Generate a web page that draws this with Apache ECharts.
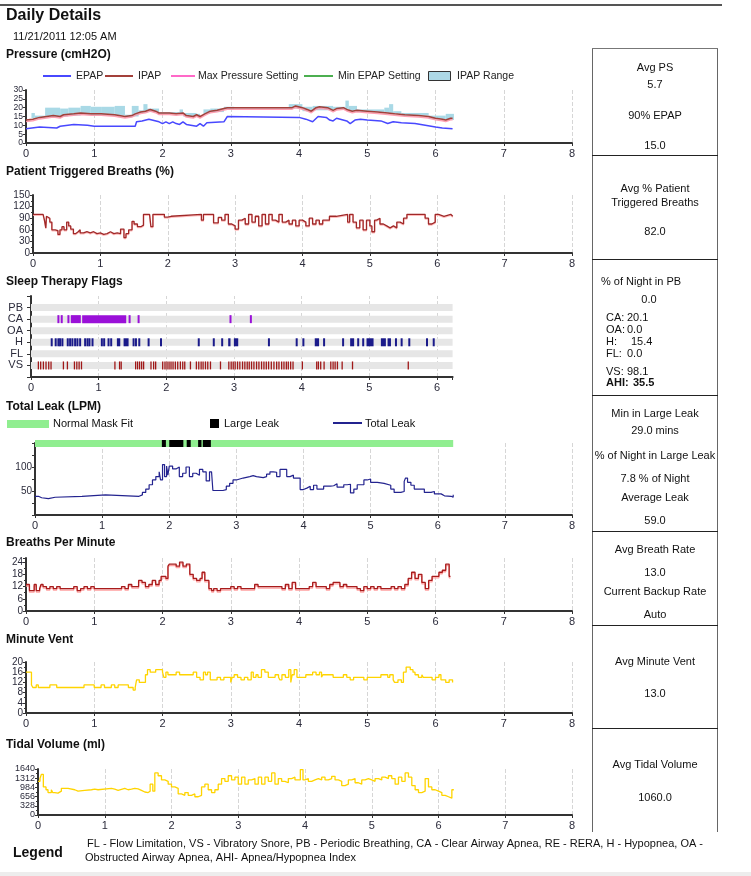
<!DOCTYPE html>
<html><head><meta charset="utf-8">
<script src="https://cdn.jsdelivr.net/npm/echarts@6/dist/echarts.min.js"></script>
<style>html,body{margin:0;padding:0;background:#fff;overflow:hidden}#c{width:751px;height:876px}</style>
</head><body><div id="c"></div>
<script>
// ---------------- DATA ----------------
const hourTicks = [0,1,2,3,4,5,6,7,8];
const flagHourTicks = [1,2,3,4,5,6];
const flagRows = ['VS','FL','H','OA','CA','PB']; // bottom -> top (values 1..6)

const ipap = [[0,13],[0.1,13.5],[0.2,14.5],[0.3,15],[0.4,15.5],[0.5,15],[0.55,16],[0.7,16.5],[0.8,17],[0.95,16.5],[1.1,16.5],[1.3,16],[1.45,15],[1.55,15.5],[1.6,16.5],[1.68,17.5],[1.75,18],[1.82,19],[1.9,18],[1.95,17],[2.1,17],[2.2,16.5],[2.3,17],[2.35,15.5],[2.45,15],[2.5,16],[2.55,15],[2.62,16.5],[2.7,18],[2.8,18.5],[2.9,19.5],[2.95,20],[3.9,20],[3.95,21],[4.05,20],[4.12,19],[4.18,18],[4.25,20],[4.3,20.5],[4.42,20],[4.5,18.5],[4.55,19.5],[4.65,20],[4.7,19],[4.78,18],[4.85,18.5],[5.0,18],[5.15,17.5],[5.3,17],[5.4,16.5],[5.55,16],[5.75,15.5],[5.9,15],[6.0,14],[6.1,13.5],[6.15,13],[6.22,14],[6.25,14]];
const epap = [[0,8],[0.2,9],[0.45,8.5],[0.5,9.5],[0.7,10.5],[0.9,10],[1.0,9.5],[1.6,9.5],[1.62,12],[1.7,12.5],[1.8,13.5],[1.95,12],[2.0,11],[2.05,12],[2.1,11],[2.15,12],[2.2,11],[2.25,10.5],[2.3,12],[2.35,10.5],[2.5,9.5],[2.55,11],[2.6,9.5],[2.65,11.5],[2.9,12],[2.95,15],[4.0,14.5],[4.1,13.5],[4.2,12],[4.28,15],[4.4,14.5],[4.45,13],[4.5,12.5],[4.55,14],[4.7,12.5],[4.75,11],[4.82,13],[4.9,13.5],[5.0,13],[5.2,12.5],[5.3,11],[5.38,12],[5.5,11.5],[5.7,11],[5.85,10],[6.0,9],[6.1,8.5],[6.25,8]];
// [start hour, end hour, low, high]
const ipapRange = [[0.08,0.13,14,17],[0.13,0.28,14,15.5],[0.28,0.5,14.5,20],[0.5,0.62,15,19.5],[0.62,0.8,15.5,20],[0.8,0.95,16,21],[0.95,1.1,15.5,20.5],[1.1,1.3,15.5,20.5],[1.3,1.45,15.5,21],[1.45,1.55,14.5,16],[1.55,1.65,15,21],[1.65,1.72,17,18.5],[1.72,1.78,17,22],[1.78,1.95,17.5,19.5],[1.95,2.25,16.5,17.5],[2.25,2.3,16,19],[2.3,2.5,15,17],[2.5,2.55,15,16.5],[2.6,2.7,16.5,19],[2.7,2.9,17.5,19.5],[2.9,3.05,19,20.5],[3.05,3.85,19.5,20.3],[3.85,4.05,19.5,22],[4.05,4.2,18,20.5],[4.2,4.5,18.5,21],[4.5,4.68,19,20.5],[4.68,4.73,19,24],[4.73,4.85,18,21],[4.85,5.25,17.5,19],[5.25,5.32,17,20],[5.32,5.38,17,22],[5.38,5.5,16.5,18],[5.5,5.9,15.5,17],[5.9,6.15,13.5,15.5],[6.15,6.27,13,16.5]];

const patientTriggered = [[0,100],[0.15,95],[0.17,85],[0.19,65],[0.2,95],[0.22,90],[0.25,80],[0.28,60],[0.33,58],[0.37,48],[0.4,60],[0.43,68],[0.46,60],[0.5,80],[0.53,70],[0.56,62],[0.6,50],[0.63,55],[0.67,60],[0.7,52],[0.75,55],[0.8,52],[0.85,55],[0.9,50],[0.95,52],[1.0,48],[1.05,50],[1.1,55],[1.15,50],[1.2,52],[1.25,50],[1.3,62],[1.35,40],[1.38,50],[1.42,60],[1.47,82],[1.5,75],[1.55,68],[1.6,72],[1.64,100],[1.73,100],[1.75,68],[1.78,100],[1.95,93],[2.0,95],[2.05,100],[2.5,85],[2.53,100],[2.68,78],[2.75,92],[2.8,85],[2.85,100],[2.9,75],[2.95,70],[3.0,62],[3.05,85],[3.1,90],[3.15,75],[3.2,100],[3.25,80],[3.3,95],[3.35,70],[3.4,100],[3.45,75],[3.5,100],[3.55,85],[3.6,80],[3.65,100],[3.7,80],[3.75,85],[3.8,75],[3.85,85],[3.9,70],[3.95,85],[4.0,80],[4.05,70],[4.1,90],[4.15,75],[4.2,85],[4.25,75],[4.3,85],[4.4,95],[4.5,100],[4.67,80],[4.7,100],[4.75,80],[4.8,65],[4.85,85],[4.9,60],[4.95,85],[5.0,70],[5.03,55],[5.07,85],[5.1,90],[5.15,75],[5.2,70],[5.25,65],[5.3,70],[5.35,65],[5.4,80],[5.45,75],[5.5,90],[5.55,100],[5.82,90],[5.87,75],[5.92,80],[5.97,100],[6.02,95],[6.1,100],[6.2,95],[6.23,95]];

// flag events: [start hour, end hour]
const flagsCA = [[0.405,0.405],[0.454,0.454],[0.553,0.553],[0.588,0.736],[0.756,1.407],[1.457,1.457],[1.59,1.59],[2.948,2.948],[3.249,3.249]];
const flagsH = [[0.306,0.306],[0.365,0.365],[0.405,0.405],[0.43,0.43],[0.464,0.464],[0.543,0.543],[0.578,0.578],[0.612,0.612],[0.652,0.652],[0.686,0.686],[0.726,0.726],[0.8,0.8],[0.835,0.835],[0.864,0.864],[0.909,0.909],[1.047,1.047],[1.081,1.081],[1.146,1.146],[1.185,1.185],[1.269,1.319],[1.368,1.442],[1.516,1.516],[1.551,1.551],[1.6,1.6],[1.738,1.738],[1.921,1.921],[2.479,2.479],[2.701,2.701],[2.825,2.825],[2.914,2.948],[2.998,3.062],[3.516,3.516],[3.926,3.926],[4.025,4.025],[4.193,4.257],[4.331,4.331],[4.612,4.612],[4.716,4.775],[4.835,4.835],[4.909,4.909],[4.958,5.062],[5.17,5.244],[5.269,5.319],[5.393,5.393],[5.477,5.477],[5.59,5.59],[5.852,5.852],[5.951,5.951]];
const flagsVS = [0.109,0.143,0.183,0.222,0.262,0.296,0.479,0.538,0.642,0.677,0.711,0.746,1.24,1.309,1.333,1.546,1.575,1.605,1.635,1.664,1.773,1.812,1.842,1.946,1.98,2.01,2.04,2.069,2.099,2.133,2.168,2.207,2.242,2.272,2.356,2.444,2.479,2.514,2.543,2.578,2.612,2.652,2.8,2.923,2.958,2.988,3.017,3.052,3.086,3.126,3.16,3.195,3.225,3.259,3.294,3.333,3.368,3.407,3.442,3.477,3.511,3.551,3.59,3.63,3.664,3.704,3.738,3.773,3.802,3.837,3.872,4.01,4.222,4.247,4.281,4.331,4.43,4.464,4.494,4.528,4.598,4.751,5.575];
const flagsEnd = 6.23;

// mask fit: [start, end, kind] kind 0 = normal, 1 = large leak
const maskFit = [[0,6.23,0],[1.89,1.95,1],[2.0,2.21,1],[2.26,2.32,1],[2.43,2.48,1],[2.5,2.62,1]];
const totalLeak = [[0,39],[0.05,36],[0.1,34],[0.2,37],[0.3,39],[0.7,42],[1.05,39],[1.55,42],[1.6,47],[1.65,54],[1.7,63],[1.75,73],[1.8,80],[1.85,90],[1.87,73],[1.9,105],[1.93,80],[1.96,102],[1.98,83],[2.0,102],[2.05,96],[2.1,100],[2.15,80],[2.2,87],[2.25,100],[2.3,80],[2.35,87],[2.4,83],[2.45,95],[2.5,90],[2.55,71],[2.6,90],[2.63,87],[2.65,51],[2.8,53],[2.85,60],[2.9,66],[2.95,73],[3.0,77],[3.1,80],[3.2,82],[3.25,80],[3.3,78],[3.4,80],[3.45,85],[3.5,90],[3.55,89],[3.6,80],[3.65,95],[3.75,80],[3.8,83],[3.85,77],[3.95,53],[4.0,56],[4.05,60],[4.1,53],[4.15,62],[4.2,54],[4.3,60],[4.4,61],[4.45,65],[4.5,58],[4.6,63],[4.65,64],[4.7,46],[4.75,54],[4.8,63],[4.9,73],[4.95,75],[5.0,68],[5.1,66],[5.2,62],[5.3,54],[5.35,47],[5.45,49],[5.5,70],[5.52,77],[5.55,68],[5.6,62],[5.65,54],[5.8,47],[5.9,49],[5.95,44],[6.05,40],[6.1,39],[6.2,37],[6.23,42]];

const breathsPerMin = [[0,13],[0.05,10],[0.12,13],[0.15,10],[0.2,11],[0.22,13],[0.25,12],[0.3,11],[0.35,12],[0.4,11],[0.45,12],[0.5,11],[0.7,12],[0.75,10],[0.8,11],[0.85,12],[0.9,11],[0.95,12],[1.0,11],[1.4,12],[1.45,11],[1.5,13],[1.55,12],[1.65,15],[1.7,14],[1.75,12],[1.8,13],[1.85,15],[1.9,13],[1.95,15],[1.98,17],[2.05,16],[2.08,22],[2.1,23],[2.2,22],[2.25,24],[2.3,22],[2.35,23],[2.4,18],[2.45,16],[2.5,15],[2.55,16],[2.58,19],[2.62,15],[2.68,11],[2.72,10],[2.75,11],[2.8,10],[2.85,11],[3.0,12],[3.05,11],[3.1,12],[3.15,11],[3.35,13],[3.4,12],[3.75,11],[3.8,13],[3.85,11],[3.9,14],[3.95,11],[4.15,12],[4.2,14],[4.25,12],[4.4,11],[4.45,13],[4.5,14],[4.6,12],[4.65,13],[4.7,12],[4.85,11],[4.9,10],[4.95,12],[5.0,11],[5.05,12],[5.1,11],[5.15,12],[5.2,11],[5.35,12],[5.4,11],[5.45,12],[5.5,11],[5.55,13],[5.6,16],[5.65,19],[5.7,16],[5.75,18],[5.8,14],[5.85,11],[5.9,15],[5.95,17],[6.05,19],[6.1,20],[6.15,23],[6.2,17],[6.22,17]];

const minuteVent = [[0,16],[0.08,11],[0.1,10],[0.15,11],[0.18,10],[0.35,11],[0.45,10],[0.85,11],[1.0,10],[1.1,11],[1.15,10],[1.25,11],[1.3,10],[1.35,11],[1.5,10],[1.57,9],[1.6,10],[1.62,13],[1.66,12],[1.75,15],[1.78,17],[1.82,16],[1.9,17],[2.0,16],[2.02,14],[2.05,16],[2.08,15],[2.2,16],[2.25,15],[2.45,16],[2.5,14],[2.55,13],[2.6,16],[2.63,15],[2.66,16],[2.7,13],[2.8,14],[2.85,13],[2.9,14],[3.0,12],[3.02,14],[3.05,15],[3.1,14],[3.15,13],[3.2,14],[3.25,13],[3.3,16],[3.33,14],[3.37,15],[3.4,14],[3.45,17],[3.5,16],[3.55,14],[3.65,15],[3.7,14],[3.72,13],[3.75,15],[3.8,14],[3.85,17],[3.88,12],[3.9,15],[3.93,17],[3.97,14],[4.1,15],[4.2,16],[4.25,15],[4.3,16],[4.33,14],[4.35,15],[4.5,14],[4.65,15],[4.7,14],[4.75,13],[4.8,14],[4.95,13],[5.0,14],[5.2,15],[5.3,14],[5.33,15],[5.38,13],[5.4,12],[5.45,13],[5.5,12],[5.53,16],[5.57,18],[5.63,17],[5.67,16],[5.7,15],[5.75,14],[5.8,15],[5.82,14],[5.95,13],[6.0,14],[6.05,15],[6.08,13],[6.15,12],[6.2,13],[6.25,12]];

const tidalVolume = [[0,1200],[0.03,1300],[0.05,1450],[0.08,1000],[0.12,900],[0.15,800],[0.2,900],[0.22,800],[0.25,780],[0.3,850],[0.35,950],[0.45,900],[0.55,850],[0.6,880],[0.7,900],[0.8,920],[0.85,900],[0.9,950],[1.1,920],[1.15,880],[1.2,950],[1.3,900],[1.35,920],[1.4,950],[1.45,930],[1.5,880],[1.55,820],[1.6,800],[1.65,850],[1.68,1100],[1.72,850],[1.75,1500],[1.8,1400],[1.85,1250],[1.9,1200],[1.95,1100],[2.0,1000],[2.05,950],[2.1,750],[2.15,700],[2.2,800],[2.25,700],[2.3,750],[2.35,650],[2.4,700],[2.45,1000],[2.5,1100],[2.55,900],[2.6,800],[2.65,900],[2.7,1100],[2.75,1300],[2.8,1200],[2.85,1400],[2.9,1250],[2.95,1350],[3.0,1100],[3.05,1350],[3.1,1100],[3.15,1250],[3.2,1300],[3.25,1100],[3.3,1350],[3.35,1100],[3.4,1350],[3.45,1200],[3.5,1500],[3.55,1100],[3.6,1300],[3.65,1200],[3.7,1150],[3.75,1300],[3.8,1350],[3.85,1250],[3.93,1620],[3.97,1250],[4.0,1300],[4.05,1200],[4.1,1250],[4.15,1300],[4.2,1250],[4.25,1350],[4.3,1250],[4.35,1300],[4.4,1380],[4.45,1250],[4.5,1200],[4.55,1050],[4.6,1100],[4.65,1250],[4.7,1300],[4.75,1150],[4.8,1100],[4.85,1250],[4.9,1300],[4.95,1250],[5.0,1200],[5.05,1300],[5.1,1250],[5.15,1350],[5.2,1300],[5.25,1400],[5.3,1300],[5.35,1100],[5.4,1350],[5.45,1200],[5.5,1500],[5.55,1350],[5.6,1050],[5.65,900],[5.7,800],[5.75,850],[5.8,1300],[5.85,1000],[5.9,900],[5.95,850],[6.0,800],[6.05,700],[6.1,650],[6.15,600],[6.2,900],[6.23,900]];

const pressureTicks = [0,5,10,15,20,25,30];
const patientTicks = [0,30,60,90,120,150];
const leakTicks = [50,100];
const breathTicks = [0,6,12,18,24];
const mvTicks = [0,4,8,12,16,20];
const tvTicks = [0,328,656,984,1312,1640];

// ---------------- STYLE / LAYOUT ----------------
const FONT = '"Liberation Sans", Arial, sans-serif';
const LBL = '#2b2b3b';

function xAx(gi, max, split) {
  return {
    type:'value', gridIndex:gi, min:0, max:max, interval:1,
    axisLine:{show:true, onZero:false, lineStyle:{color:'#333', width:2}},
    axisTick:{show:true, length:3, lineStyle:{color:'#333'}},
    axisLabel:{show:true, fontSize:11, color:LBL, fontFamily:FONT, margin:5, showMinLabel:true, showMaxLabel:true, hideOverlap:false,
      formatter:v => hourTicks.indexOf(v) >= 0 ? String(v) : ''},
    splitLine:{show: split !== false, lineStyle:{color:'#d6d6d6', type:'dashed', width:1}}
  };
}
function yAx(gi, min, max, interval, ticks, minorSplit, fs) {
  return {
    type:'value', gridIndex:gi, min:min, max:max, interval:interval,
    axisLine:{show:true, onZero:false, lineStyle:{color:'#333', width:2}},
    axisTick:{show:true, length:3, lineStyle:{color:'#333'}},
    minorTick:{show: !!minorSplit, splitNumber: minorSplit || 2, length:2, lineStyle:{color:'#333'}},
    axisLabel:{fontSize:fs || 10, color:LBL, fontFamily:FONT, margin:3, lineHeight:7, padding:0,
      showMinLabel:true, showMaxLabel:true, hideOverlap:false,
      formatter:v => ticks.indexOf(v) >= 0 ? String(v) : ''},
    splitLine:{show:false}
  };
}
function yFlags(gi) {
  return {
    type:'value', gridIndex:gi, min:0, max:7, interval:1,
    axisLine:{show:true, onZero:false, lineStyle:{color:'#333', width:2}},
    axisTick:{show:true, length:4, lineStyle:{color:'#333'}},
    axisLabel:{fontSize:11, color:LBL, fontFamily:FONT, margin:8, lineHeight:9, showMinLabel:true, showMaxLabel:true, hideOverlap:false,
      formatter:v => (v>=1 && v<=6) ? flagRows[v-1] : ''},
    splitLine:{show:false}
  };
}

const grids = [
  {left:26, top:90, width:546, height:53},   // 0 pressure
  {left:33, top:195, width:539, height:58},  // 1 patient
  {left:31, top:296, width:421.6, height:81},// 2 flags
  {left:35, top:440, width:537, height:7},   // 3 mask bar
  {left:35, top:443, width:537, height:72},  // 4 leak
  {left:26, top:558, width:546, height:53},  // 5 breaths
  {left:26, top:662, width:546, height:51},  // 6 minute vent
  {left:38, top:769, width:534, height:46}   // 7 tidal
].map(g => Object.assign({containLabel:false, outerBoundsMode:'none'}, g));

function rectRender(color) {
  return function(params, api) {
    const p0 = api.coord([api.value(0), api.value(3)]);
    const p1 = api.coord([api.value(1), api.value(2)]);
    return {type:'rect', shape:{x:p0[0], y:p0[1], width:Math.max(p1[0]-p0[0],1), height:p1[1]-p0[1]},
      style:{fill: color}};
  };
}
function eventRender(color, h, minW) {
  return function(params, api) {
    const a = api.coord([api.value(0), api.value(2)]);
    const b = api.coord([api.value(1), api.value(2)]);
    let w = b[0]-a[0], x = a[0];
    if (w < minW) { x = a[0]-minW/2; w = minW; }
    return {type:'rect', shape:{x:x, y:a[1]-h/2, width:w, height:h}, style:{fill:color}};
  };
}

const bandData = [1,2,3,4,5,6].map(r => [0, flagsEnd, r]);
const caData = flagsCA.map(e => [e[0], e[1], 5]);
const hData = flagsH.map(e => [e[0], e[1], 3]);
const vsData = flagsVS.map(t => [t, t, 1]);

const series = [
  {type:'custom', xAxisIndex:0, yAxisIndex:0, renderItem:rectRender('#a9d9e6'), data:ipapRange, encode:{x:[0,1], y:[2,3]}, z:1},
  {type:'line', xAxisIndex:0, yAxisIndex:0, data:ipap, showSymbol:false, lineStyle:{color:'#a3403a', width:1.5, shadowColor:'rgba(255,150,170,0.9)', shadowOffsetY:1.5}, z:3},
  {type:'line', xAxisIndex:0, yAxisIndex:0, data:epap, showSymbol:false, lineStyle:{color:'#4848ff', width:1.5}, z:3},

  {type:'line', xAxisIndex:1, yAxisIndex:1, data:patientTriggered, step:'end', showSymbol:false, lineStyle:{color:'#a02828', width:1.3, shadowColor:'rgba(255,170,170,0.8)', shadowOffsetY:1}},

  {type:'line', xAxisIndex:2, yAxisIndex:2, data:[], silent:true,
    markLine:{silent:true, symbol:'none', label:{show:false}, z:0,
      lineStyle:{color:'#d6d6d6', type:'dashed', width:1},
      data: flagHourTicks.map(h => ({xAxis:h}))}},
  {type:'custom', xAxisIndex:2, yAxisIndex:2, renderItem:eventRender('#e6e6e6', 7, 1), data:bandData, encode:{x:[0,1], y:2}, z:1},
  {type:'custom', xAxisIndex:2, yAxisIndex:2, renderItem:eventRender('#9a10d8', 8, 2), data:caData, encode:{x:[0,1], y:2}, z:2},
  {type:'custom', xAxisIndex:2, yAxisIndex:2, renderItem:eventRender('#1a1a8a', 8, 2), data:hData, encode:{x:[0,1], y:2}, z:2},
  {type:'custom', xAxisIndex:2, yAxisIndex:2, renderItem:eventRender('#a01818', 8, 1.3), data:vsData, encode:{x:[0,1], y:2}, z:2},

  {type:'custom', xAxisIndex:3, yAxisIndex:3, renderItem:function(params, api){
      const a = api.coord([api.value(0), 1]);
      const b = api.coord([api.value(1), 0]);
      return {type:'rect', shape:{x:a[0], y:a[1], width:b[0]-a[0], height:b[1]-a[1]},
        style:{fill: api.value(2) ? '#000' : '#90ee90'}};
    }, data:maskFit, encode:{x:[0,1]}, z:5},
  {type:'line', xAxisIndex:4, yAxisIndex:4, data:totalLeak, step:'end', showSymbol:false, lineStyle:{color:'#23238f', width:1.2}},

  {type:'line', xAxisIndex:5, yAxisIndex:5, data:breathsPerMin, step:'end', showSymbol:false, lineStyle:{color:'#a81c1c', width:1.3, shadowColor:'rgba(255,150,150,0.9)', shadowOffsetY:1.5}},
  {type:'line', xAxisIndex:6, yAxisIndex:6, data:minuteVent, step:'end', showSymbol:false, lineStyle:{color:'#ffd400', width:1.3}},
  {type:'line', xAxisIndex:7, yAxisIndex:7, data:tidalVolume, step:'end', showSymbol:false, lineStyle:{color:'#ffd400', width:1.3}}
];

const xAxes = [xAx(0,8), xAx(1,8), xAx(2,flagsEnd,false), Object.assign(xAx(3,8), {show:false}), xAx(4,8), xAx(5,8), xAx(6,8), xAx(7,8)];
const yAxes = [
  yAx(0,0,30,5,pressureTicks,0,8.6),
  yAx(1,0,150,30,patientTicks,2),
  yFlags(2),
  {type:'value', gridIndex:3, min:0, max:1, show:false},
  yAx(4,0,150,25,leakTicks,0),
  yAx(5,0,26,6,breathTicks,2),
  yAx(6,0,20,4,mvTicks,2),
  yAx(7,0,1640,328,tvTicks,2,9)
];

// ---------------- TEXT / DECOR ----------------
const g = [];
function T(x, y, text, o) {
  o = o || {};
  g.push({type:'text', x:x, y:y, silent:true, z:10, style:{text:text, fill:o.fill||'#111',
    font:(o.bold?'bold ':'') + (o.size||11) + 'px ' + FONT,
    textAlign:o.align||'left', textVerticalAlign:'middle', align:o.align||'left', verticalAlign:'middle'}});
}
function L(x1,y1,x2,y2,c,w) { g.push({type:'line', silent:true, z:10, shape:{x1:x1,y1:y1,x2:x2,y2:y2}, style:{stroke:c, lineWidth:w||1}}); }
function R(x,y,w,h,fill,stroke) { g.push({type:'rect', silent:true, z:10, shape:{x:x,y:y,width:w,height:h}, style:{fill:fill, stroke:stroke||null, lineWidth:1}}); }

L(0,5,722,5,'#555',2);
T(6,16,'Daily Details',{bold:true,size:16});
T(13,37,'11/21/2011 12:05 AM',{size:11});
T(6,55,'Pressure (cmH2O)',{bold:true,size:12});
T(6,172,'Patient Triggered Breaths (%)',{bold:true,size:12});
T(6,282,'Sleep Therapy Flags',{bold:true,size:12});
T(6,407,'Total Leak (LPM)',{bold:true,size:12});
T(6,543,'Breaths Per Minute',{bold:true,size:12});
T(6,640,'Minute Vent',{bold:true,size:12});
T(6,745,'Tidal Volume (ml)',{bold:true,size:12});

// pressure legend
const LG = {size:10.5, fill:'#222'};
L(43,76,71,76,'#4848ff',2); T(76,76,'EPAP',LG);
L(105,76,133,76,'#a3403a',2); T(138,76,'IPAP',LG);
L(171,76,195,76,'#ff69c8',2); T(198,76,'Max Pressure Setting',LG);
L(304,76,333,76,'#4caf50',2); T(338,76,'Min EPAP Setting',LG);
R(428.5,71.5,22,9,'#add8e6','#333'); T(457,76,'IPAP Range',LG);

// leak legend
R(7,420,42,8,'#90ee90'); T(53,424,'Normal Mask Fit');
R(210,419,9,9,'#000'); T(224,424,'Large Leak');
L(333,423,362,423,'#23238f',2); T(365,424,'Total Leak');

// right panel
L(592.5,48,592.5,832,'#666',1);
L(717.5,48,717.5,832,'#666',1);
L(592,48.5,718,48.5,'#777',1);
[155.5,259.5,395.5,531.5,625.5,728.5].forEach(y => L(592,y,718,y,'#222',1));
const C = 655;
T(C,68,'Avg PS',{align:'center'}); T(C,85,'5.7',{align:'center'});
T(C,116,'90% EPAP',{align:'center'}); T(C,146,'15.0',{align:'center'});
T(C,189,'Avg % Patient',{align:'center'}); T(C,203,'Triggered Breaths',{align:'center'}); T(C,232,'82.0',{align:'center'});
T(601,282,'% of Night in PB'); T(649,300,'0.0',{align:'center'});
T(606,318,'CA:'); T(627,318,'20.1');
T(606,330,'OA:'); T(627,330,'0.0');
T(606,342,'H:'); T(631,342,'15.4');
T(606,354,'FL:'); T(627,354,'0.0');
T(606,372,'VS:'); T(627,372,'98.1');
T(606,383,'AHI:',{bold:true}); T(633,383,'35.5',{bold:true});
T(C,414,'Min in Large Leak',{align:'center'}); T(C,431,'29.0 mins',{align:'center'});
T(C,456,'% of Night in Large Leak',{align:'center'}); T(C,479,'7.8 % of Night',{align:'center'});
T(C,498,'Average Leak',{align:'center'}); T(C,521,'59.0',{align:'center'});
T(C,550,'Avg Breath Rate',{align:'center'}); T(C,573,'13.0',{align:'center'});
T(C,592,'Current Backup Rate',{align:'center'}); T(C,615,'Auto',{align:'center'});
T(C,662,'Avg Minute Vent',{align:'center'}); T(C,694,'13.0',{align:'center'});
T(C,765,'Avg Tidal Volume',{align:'center'}); T(C,798,'1060.0',{align:'center'});

// footer legend
T(13,853,'Legend',{bold:true,size:14});
T(87,844,'FL - Flow Limitation, VS - Vibratory Snore, PB - Periodic Breathing, CA - Clear Airway Apnea, RE - RERA, H - Hypopnea, OA -');
T(85,858,'Obstructed Airway Apnea, AHI- Apnea/Hypopnea Index');
R(0,872,751,4,'#ededed');

const chart = echarts.init(document.getElementById('c'), null, {renderer:'canvas'});
chart.setOption({
  animation:false, backgroundColor:'#fff',
  grid:grids, xAxis:xAxes, yAxis:yAxes, series:series, graphic:g
});
</script></body></html>
